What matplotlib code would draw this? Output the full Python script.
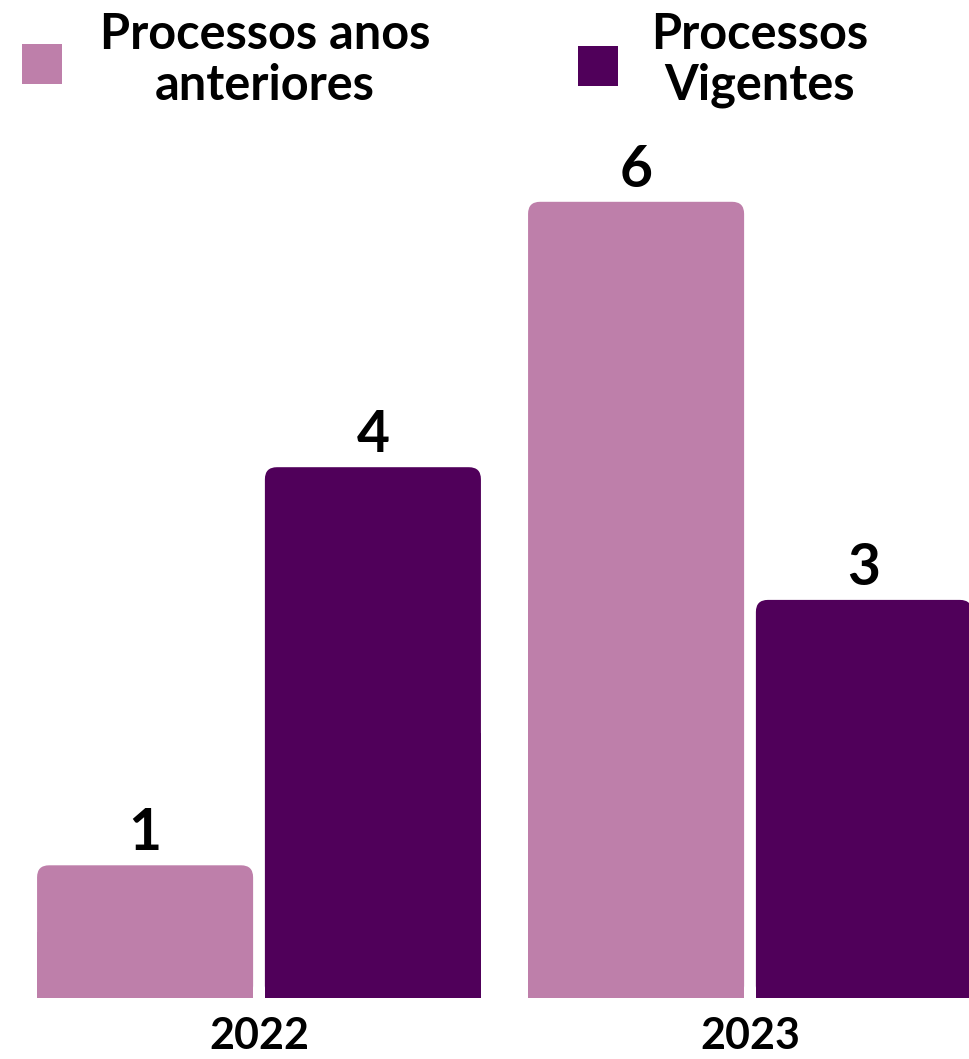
import matplotlib.pyplot as plt
from matplotlib.patches import FancyBboxPatch, Rectangle

anos = ['2022', '2023']
series = ['Processos anos\nanteriores', 'Processos\nVigentes']
anteriores = [1, 6]
vigentes = [4, 3]
cores = ['#BE7FAA', '#50005A']

plt.rcParams['font.family'] = ['Lato', 'DejaVu Sans']
plt.rcParams['font.weight'] = 'bold'

W, H = 969, 1059
px_x = 491.0   # pixels per x unit
px_y = 132.7   # pixels per y unit

fig = plt.figure(figsize=(W / 100, H / 100), dpi=100)
ax = fig.add_axes([0, 61 / H, 1, 1 - 61 / H])
ax.set_xlim(-259 / px_x, (W - 259) / px_x)
ax.set_ylim(0, 998 / px_y)


def arredonda(ax, b, r=12 / px_x):
    # topo arredondado, base reta
    x0, w, h = b.get_x(), b.get_width(), b.get_height()
    cor = b.get_facecolor()
    b.set_visible(False)
    ax.add_patch(FancyBboxPatch((x0, 0), w, h, boxstyle=f'round,pad=0,rounding_size={r}',
                                mutation_aspect=px_x / px_y, fc=cor, ec='none'))
    ax.add_patch(Rectangle((x0, 0), w, h / 2, fc=cor, ec='none'))


larg = 0.44
desloc = 0.232
x = list(range(len(anos)))
for valores, cor, d in zip([anteriores, vigentes], cores, [-desloc, desloc]):
    barras = ax.bar([i + d for i in x], valores, width=larg, color=cor)
    for b, v in zip(barras, valores):
        arredonda(ax, b)
        ax.annotate(str(v), (b.get_x() + b.get_width() / 2, v), xytext=(0, 11),
                    textcoords='offset points', ha='center', va='baseline',
                    fontsize=41, fontweight='bold')

ax.set_xticks(x, anos)
ax.tick_params(axis='x', length=0, pad=13, labelsize=31)
ax.set_yticks([])
for s in ax.spines.values():
    s.set_visible(False)

# legenda
quad = [(22, 44), (578, 46)]
centro_txt = [265, 760]
for (qx, qy), cx, cor, nome in zip(quad, centro_txt, cores, series):
    fig.add_artist(Rectangle((qx / W, 1 - (qy + 40) / H), 40 / W, 40 / H,
                             transform=fig.transFigure, fc=cor, ec='none'))
    fig.text(cx / W, 1 - 60 / H, nome, ha='center', va='center', multialignment='center',
             fontsize=35, fontweight='bold', linespacing=1.14)

fig.savefig('out.png', dpi=100)
